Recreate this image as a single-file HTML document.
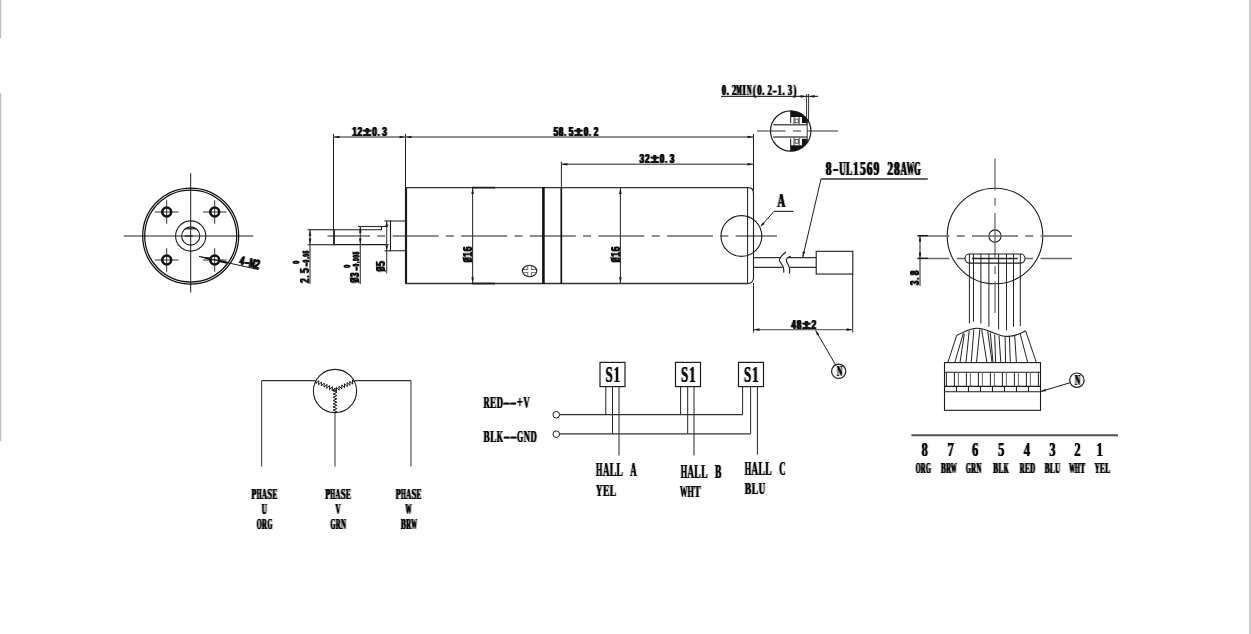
<!DOCTYPE html>
<html><head><meta charset="utf-8"><title>Motor drawing</title>
<style>html,body{margin:0;padding:0;background:#fff;overflow:hidden}svg{display:block}text{white-space:pre}</style>
</head><body>
<svg width="1251" height="634" viewBox="0 0 1251 634">
<rect width="1251" height="634" fill="#fff"/>
<defs>
<filter id="fb" x="-50%" y="-50%" width="200%" height="200%"><feConvolveMatrix order="3 1" kernelMatrix="0.33 1 0.33" divisor="1" preserveAlpha="false" edgeMode="none"/></filter>
<filter id="fs" x="-50%" y="-50%" width="200%" height="200%"><feConvolveMatrix order="3 1" kernelMatrix="0.42 1 0.42" divisor="1" preserveAlpha="false" edgeMode="none"/></filter>
<filter id="f0" x="-50%" y="-50%" width="200%" height="200%"><feConvolveMatrix order="3 1" kernelMatrix="0 1 0" divisor="1" preserveAlpha="false" edgeMode="none"/></filter>
<filter id="fsv" x="-50%" y="-50%" width="200%" height="200%"><feConvolveMatrix order="1 3" kernelMatrix="0.36 1 0.36" divisor="1" preserveAlpha="false" edgeMode="none"/></filter>
<filter id="fbv" x="-50%" y="-50%" width="200%" height="200%"><feConvolveMatrix order="1 3" kernelMatrix="0.33 1 0.33" divisor="1" preserveAlpha="false" edgeMode="none"/></filter>
<filter id="flv" x="-50%" y="-50%" width="200%" height="200%"><feConvolveMatrix order="1 3" kernelMatrix="0.22 1 0.22" divisor="1" preserveAlpha="false" edgeMode="none"/></filter>
<filter id="fl" x="-50%" y="-50%" width="200%" height="200%"><feConvolveMatrix order="3 1" kernelMatrix="0.22 1 0.22" divisor="1" preserveAlpha="false" edgeMode="none"/></filter>
</defs>
<rect x="0" y="0" width="1.25" height="38" fill="#bcbcbc"/>
<rect x="0" y="93.5" width="1.25" height="347.5" fill="#bcbcbc"/>
<rect x="1249" y="0" width="2" height="634" fill="#cacaca"/>
<line x1="123.7" y1="236" x2="253.3" y2="236" stroke="#6a6a6a" stroke-width="1.4" />
<line x1="190.7" y1="173.2" x2="190.7" y2="292.5" stroke="#1c1c1c" stroke-width="1" />
<circle cx="190.7" cy="236" r="48" stroke="#111" stroke-width="1.25" fill="none" />
<circle cx="190.7" cy="236" r="46" stroke="#111" stroke-width="1.25" fill="none" />
<circle cx="190.7" cy="236" r="15.1" stroke="#1c1c1c" stroke-width="1.1" fill="none" />
<circle cx="190.7" cy="236" r="9.1" stroke="#1c1c1c" stroke-width="1.1" fill="none" />
<line x1="185.1" y1="228.8" x2="196.29999999999998" y2="228.8" stroke="#1c1c1c" stroke-width="1.2" />
<line x1="184.7" y1="236" x2="192.7" y2="236" stroke="#1c1c1c" stroke-width="1.2" />
<line x1="154.89999999999998" y1="212" x2="178.5" y2="212" stroke="#444" stroke-width="1.1" />
<line x1="166.7" y1="200.2" x2="166.7" y2="223.8" stroke="#333" stroke-width="1" />
<circle cx="166.7" cy="212" r="4.45" stroke="#111" stroke-width="2.6" fill="none" />
<line x1="154.89999999999998" y1="260" x2="178.5" y2="260" stroke="#444" stroke-width="1.1" />
<line x1="166.7" y1="248.2" x2="166.7" y2="271.8" stroke="#333" stroke-width="1" />
<circle cx="166.7" cy="260" r="4.45" stroke="#111" stroke-width="2.6" fill="none" />
<line x1="202.89999999999998" y1="212" x2="226.5" y2="212" stroke="#444" stroke-width="1.1" />
<line x1="214.7" y1="200.2" x2="214.7" y2="223.8" stroke="#333" stroke-width="1" />
<circle cx="214.7" cy="212" r="4.45" stroke="#111" stroke-width="2.6" fill="none" />
<line x1="202.89999999999998" y1="260" x2="226.5" y2="260" stroke="#444" stroke-width="1.1" />
<line x1="214.7" y1="248.2" x2="214.7" y2="271.8" stroke="#333" stroke-width="1" />
<circle cx="214.7" cy="260" r="4.45" stroke="#111" stroke-width="2.6" fill="none" />
<line x1="199" y1="256.4" x2="258.7" y2="269.6" stroke="#1c1c1c" stroke-width="1" />
<polygon points="199.00,256.40 212.06,257.55 211.33,260.87" fill="#1a1a1a"/>
<g filter="url(#fs)" aria-label="4-M2"><text x="4.13 12.38 20.63 28.88" y="0" font-size="12.76" font-family="'Liberation Sans', sans-serif" font-weight="bold" fill="#111" stroke="#111" stroke-width="0.2" text-anchor="middle" transform="translate(238.6 264.5) rotate(12.5) scale(0.6303 1)">4<tspan textLength="6.98" lengthAdjust="spacingAndGlyphs">-</tspan><tspan textLength="9.08" lengthAdjust="spacingAndGlyphs">M</tspan>2</text></g>
<line x1="220.2" y1="261.1" x2="226.8" y2="262.6" stroke="#111" stroke-width="2.2" />
<line x1="327.5" y1="236" x2="777" y2="236" stroke="#6a6a6a" stroke-width="1.4" stroke-dasharray="46 7.3 8 7.3" stroke-dashoffset="3.5"/>
<path d="M334,229.7 H381.5 V226.5 H387.5" stroke="#1c1c1c" stroke-width="1.1" fill="none" />
<line x1="334" y1="229.2" x2="334" y2="245.2" stroke="#1c1c1c" stroke-width="1.8" />
<line x1="334" y1="244.7" x2="388.5" y2="244.7" stroke="#1c1c1c" stroke-width="1.2" />
<path d="M405.5,221 H390.5 V250.8 H405.5" stroke="#1c1c1c" stroke-width="1.1" fill="none" />
<line x1="406" y1="187" x2="406" y2="284" stroke="#1c1c1c" stroke-width="2.2" />
<line x1="405" y1="187.6" x2="748" y2="187.6" stroke="#333" stroke-width="1.3" />
<line x1="405" y1="283.5" x2="748" y2="283.5" stroke="#333" stroke-width="1.3" />
<line x1="543.4" y1="187" x2="543.4" y2="284" stroke="#111" stroke-width="2.6" />
<line x1="561.3" y1="187" x2="561.3" y2="284" stroke="#111" stroke-width="1.7" />
<path d="M748,187.6 Q753.5,187.6 753.5,193.5 V277.6 Q753.5,283.5 748,283.5" stroke="#1c1c1c" stroke-width="1.1" fill="none" />
<line x1="747.6" y1="187.6" x2="747.6" y2="283.5" stroke="#1c1c1c" stroke-width="1" />
<ellipse cx="529.6" cy="271" rx="7.2" ry="5.7" stroke="#1c1c1c" stroke-width="1.1" fill="none"/>
<line x1="523" y1="269.5" x2="536.2" y2="269.5" stroke="#666" stroke-width="1" />
<line x1="523" y1="272.6" x2="536.2" y2="272.6" stroke="#666" stroke-width="1" />
<line x1="527.9" y1="265.8" x2="527.9" y2="276.2" stroke="#666" stroke-width="1" />
<line x1="531.3" y1="265.8" x2="531.3" y2="276.2" stroke="#666" stroke-width="1" />
<rect x="523.3" y="270" width="12.6" height="2.1" stroke="none" stroke-width="0" fill="#fff" />
<rect x="528.4" y="266" width="2.4" height="10" stroke="none" stroke-width="0" fill="#fff" />
<line x1="333.5" y1="134" x2="333.5" y2="229.7" stroke="#1c1c1c" stroke-width="1" />
<line x1="405.5" y1="134" x2="405.5" y2="187" stroke="#1c1c1c" stroke-width="1" />
<line x1="753.5" y1="134" x2="753.5" y2="190" stroke="#1c1c1c" stroke-width="1" />
<line x1="333.5" y1="137" x2="753.5" y2="137" stroke="#6a6a6a" stroke-width="1.4" />
<polygon points="333.50,137.00 339.50,135.70 339.50,138.30" fill="#1a1a1a"/>
<polygon points="405.50,137.00 399.50,138.30 399.50,135.70" fill="#1a1a1a"/>
<polygon points="405.50,137.00 411.50,135.70 411.50,138.30" fill="#1a1a1a"/>
<polygon points="753.50,137.00 747.50,138.30 747.50,135.70" fill="#1a1a1a"/>
<g transform="translate(351.8 135.8)" filter="url(#fs)" aria-label="12±0.3"><text x="4.30 12.91 24.70 36.49 42.99 52.43" y="0" font-size="13.31" font-family="'Liberation Sans', sans-serif" font-weight="bold" fill="#111" stroke="#111" stroke-width="0.2" text-anchor="middle" transform="scale(0.6275 1)">12<tspan textLength="12.75" lengthAdjust="spacingAndGlyphs">±</tspan>0<tspan textLength="3.03" lengthAdjust="spacingAndGlyphs">.</tspan>3</text></g>
<g transform="translate(553.1 135.9)" filter="url(#fs)" aria-label="58.5±0.2"><text x="4.30 12.91 19.41 28.84 40.64 52.43 58.93 68.36" y="0" font-size="13.31" font-family="'Liberation Sans', sans-serif" font-weight="bold" fill="#111" stroke="#111" stroke-width="0.2" text-anchor="middle" transform="scale(0.6275 1)">58<tspan textLength="3.03" lengthAdjust="spacingAndGlyphs">.</tspan>5<tspan textLength="12.75" lengthAdjust="spacingAndGlyphs">±</tspan>0<tspan textLength="3.03" lengthAdjust="spacingAndGlyphs">.</tspan>2</text></g>
<line x1="561.4" y1="161.6" x2="561.4" y2="187" stroke="#1c1c1c" stroke-width="1" />
<line x1="561.4" y1="164.2" x2="753.5" y2="164.2" stroke="#6a6a6a" stroke-width="1.4" />
<polygon points="561.40,164.20 567.40,162.90 567.40,165.50" fill="#1a1a1a"/>
<polygon points="753.50,164.20 747.50,165.50 747.50,162.90" fill="#1a1a1a"/>
<g transform="translate(639.2 163)" filter="url(#fs)" aria-label="32±0.3"><text x="4.30 12.91 24.70 36.49 42.99 52.43" y="0" font-size="13.31" font-family="'Liberation Sans', sans-serif" font-weight="bold" fill="#111" stroke="#111" stroke-width="0.2" text-anchor="middle" transform="scale(0.6275 1)">32<tspan textLength="12.75" lengthAdjust="spacingAndGlyphs">±</tspan>0<tspan textLength="3.03" lengthAdjust="spacingAndGlyphs">.</tspan>3</text></g>
<line x1="472.6" y1="187.6" x2="472.6" y2="283.5" stroke="#333" stroke-width="1.1" />
<polygon points="472.60,187.90 473.90,193.90 471.30,193.90" fill="#1a1a1a"/>
<polygon points="472.60,283.20 471.30,277.20 473.90,277.20" fill="#1a1a1a"/>
<line x1="620.4" y1="187.6" x2="620.4" y2="283.5" stroke="#333" stroke-width="1.1" />
<polygon points="620.40,187.90 621.70,193.90 619.10,193.90" fill="#1a1a1a"/>
<polygon points="620.40,283.20 619.10,277.20 621.70,277.20" fill="#1a1a1a"/>
<line x1="472" y1="187.6" x2="495" y2="187.6" stroke="#1c1c1c" stroke-width="1.7" />
<line x1="472" y1="283.5" x2="495" y2="283.5" stroke="#1c1c1c" stroke-width="1.7" />
<g filter="url(#fsv)" aria-label="Ø16"><g transform="translate(471.8 262.4) rotate(-90)"><line x1="0.70" y1="0.2" x2="4.70" y2="-9.40" stroke="#111" stroke-width="0.85"/></g><text x="4.08 12.24 20.40" y="0" font-size="12.62" font-family="'Liberation Sans', sans-serif" font-weight="bold" fill="#111" stroke="#111" stroke-width="0.2" text-anchor="middle" transform="translate(471.8 262.4) rotate(-90) scale(0.6616 1)"><tspan textLength="7.59" lengthAdjust="spacingAndGlyphs">Ø</tspan>16</text></g>
<g filter="url(#fsv)" aria-label="Ø16"><g transform="translate(619.6 262.4) rotate(-90)"><line x1="0.70" y1="0.2" x2="4.70" y2="-9.40" stroke="#111" stroke-width="0.85"/></g><text x="4.08 12.24 20.40" y="0" font-size="12.62" font-family="'Liberation Sans', sans-serif" font-weight="bold" fill="#111" stroke="#111" stroke-width="0.2" text-anchor="middle" transform="translate(619.6 262.4) rotate(-90) scale(0.6616 1)"><tspan textLength="7.59" lengthAdjust="spacingAndGlyphs">Ø</tspan>16</text></g>
<line x1="307.6" y1="229.7" x2="334" y2="229.7" stroke="#333" stroke-width="1.2" />
<line x1="307.6" y1="244.7" x2="334" y2="244.7" stroke="#333" stroke-width="1.2" />
<line x1="310" y1="229.7" x2="310" y2="284" stroke="#444" stroke-width="1.2" />
<polygon points="310.00,229.90 311.30,235.90 308.70,235.90" fill="#1a1a1a"/>
<polygon points="310.00,244.50 308.70,238.50 311.30,238.50" fill="#1a1a1a"/>
<g filter="url(#fsv)" aria-label="2.5"><text x="4.30 10.80 20.24" y="0" font-size="13.31" font-family="'Liberation Sans', sans-serif" font-weight="bold" fill="#111" stroke="#111" stroke-width="0.2" text-anchor="middle" transform="translate(308.8 283.3) rotate(-90) scale(0.6275 1)">2<tspan textLength="3.03" lengthAdjust="spacingAndGlyphs">.</tspan>5</text></g>
<g filter="url(#f0)" aria-label="-0.05"><text x="3.32 9.52 14.42 19.31 25.07" y="0" font-size="8.92" font-family="'Liberation Sans', sans-serif" font-weight="bold" fill="#111" stroke="#111" stroke-width="1.1" text-anchor="middle" transform="translate(308.8 266.4) rotate(-90) scale(0.5723 1)"><tspan textLength="5.94" lengthAdjust="spacingAndGlyphs">-</tspan>0.05</text></g>
<g filter="url(#f0)" aria-label="0"><text x="2.66" y="0" font-size="8.23" font-family="'Liberation Sans', sans-serif" font-weight="bold" fill="#111" stroke="#111" stroke-width="1.1" text-anchor="middle" transform="translate(299.2 264) rotate(-90) scale(0.6763 1)">0</text></g>
<line x1="358" y1="226.5" x2="382" y2="226.5" stroke="#333" stroke-width="1.2" />
<line x1="360.3" y1="226.5" x2="360.3" y2="284" stroke="#444" stroke-width="1.2" />
<polygon points="360.30,226.70 361.60,232.70 359.00,232.70" fill="#1a1a1a"/>
<polygon points="360.30,244.50 359.00,238.50 361.60,238.50" fill="#1a1a1a"/>
<g filter="url(#fsv)" aria-label="Ø3"><g transform="translate(358.9 282.9) rotate(-90)"><line x1="0.70" y1="0.2" x2="4.70" y2="-9.20" stroke="#111" stroke-width="0.85"/></g><text x="3.99 11.98" y="0" font-size="12.35" font-family="'Liberation Sans', sans-serif" font-weight="bold" fill="#111" stroke="#111" stroke-width="0.2" text-anchor="middle" transform="translate(358.9 282.9) rotate(-90) scale(0.6763 1)"><tspan textLength="7.43" lengthAdjust="spacingAndGlyphs">Ø</tspan>3</text></g>
<g filter="url(#f0)" aria-label="-0.005"><text x="3.32 9.52 14.42 19.31 25.07 30.84" y="0" font-size="8.92" font-family="'Liberation Sans', sans-serif" font-weight="bold" fill="#111" stroke="#111" stroke-width="1.1" text-anchor="middle" transform="translate(358.9 270.6) rotate(-90) scale(0.5723 1)"><tspan textLength="5.94" lengthAdjust="spacingAndGlyphs">-</tspan>0.005</text></g>
<g filter="url(#f0)" aria-label="0"><text x="2.66" y="0" font-size="8.23" font-family="'Liberation Sans', sans-serif" font-weight="bold" fill="#111" stroke="#111" stroke-width="1.1" text-anchor="middle" transform="translate(350 267.9) rotate(-90) scale(0.6763 1)">0</text></g>
<line x1="384.5" y1="221" x2="391" y2="221" stroke="#333" stroke-width="1.2" />
<line x1="384.5" y1="250.8" x2="391" y2="250.8" stroke="#333" stroke-width="1.2" />
<line x1="386.7" y1="221" x2="386.7" y2="273.5" stroke="#444" stroke-width="1.1" />
<polygon points="386.70,221.20 388.00,226.20 385.40,226.20" fill="#1a1a1a"/>
<polygon points="386.70,250.60 385.40,245.60 388.00,245.60" fill="#1a1a1a"/>
<g filter="url(#fsv)" aria-label="Ø5"><g transform="translate(385.3 271.8) rotate(-90)"><line x1="0.70" y1="0.2" x2="4.70" y2="-9.10" stroke="#111" stroke-width="0.85"/></g><text x="3.95 11.84" y="0" font-size="12.21" font-family="'Liberation Sans', sans-serif" font-weight="bold" fill="#111" stroke="#111" stroke-width="0.2" text-anchor="middle" transform="translate(385.3 271.8) rotate(-90) scale(0.6839 1)"><tspan textLength="7.34" lengthAdjust="spacingAndGlyphs">Ø</tspan>5</text></g>
<circle cx="741.4" cy="236" r="20.4" stroke="#1c1c1c" stroke-width="1.1" fill="none" />
<line x1="761" y1="226" x2="774" y2="211.4" stroke="#1c1c1c" stroke-width="1" />
<line x1="774" y1="211.4" x2="793.6" y2="211.4" stroke="#333" stroke-width="1.2" />
<polygon points="760.40,226.80 762.75,222.20 764.70,223.93" fill="#1a1a1a"/>
<g transform="translate(777.2 207)" filter="url(#fb)" aria-label="A"><text x="5.33" y="0" font-size="18.32" font-family="'Liberation Serif', serif" font-weight="bold" fill="#111" stroke="#111" stroke-width="0.2" text-anchor="middle" transform="scale(0.7698 1)"><tspan textLength="9.91" lengthAdjust="spacingAndGlyphs">A</tspan></text></g>
<path d="M753.5,257.55 H780.5 M787.6,257.55 H816.2" stroke="#333" stroke-width="1.2" fill="none" />
<path d="M753.5,267.3 H782.6 M789.8,267.3 H816.2" stroke="#333" stroke-width="1.2" fill="none" />
<path d="M786,252 C781,256 778.5,258.5 779.6,261 C781,264 785,266 783.6,272.6" stroke="#1c1c1c" stroke-width="1.1" fill="none" />
<path d="M790.8,256.3 C787.5,257.5 785.8,259 786.4,261 C787.5,264.5 791,267 789.3,273.6" stroke="#1c1c1c" stroke-width="1.1" fill="none" />
<rect x="816.2" y="251.3" width="36.6" height="22.75" stroke="#1c1c1c" stroke-width="1.1" fill="none" />
<line x1="753.5" y1="283" x2="753.5" y2="332.4" stroke="#1c1c1c" stroke-width="1" />
<line x1="852.7" y1="274" x2="852.7" y2="332.4" stroke="#1c1c1c" stroke-width="1" />
<line x1="753.5" y1="329.6" x2="852.7" y2="329.6" stroke="#6a6a6a" stroke-width="1.4" />
<polygon points="753.50,329.60 759.50,328.30 759.50,330.90" fill="#1a1a1a"/>
<polygon points="852.70,329.60 846.70,330.90 846.70,328.30" fill="#1a1a1a"/>
<g transform="translate(790.9 329)" filter="url(#fs)" aria-label="48±2"><text x="4.21 12.64 24.19 35.74" y="0" font-size="13.03" font-family="'Liberation Sans', sans-serif" font-weight="bold" fill="#111" stroke="#111" stroke-width="0.2" text-anchor="middle" transform="scale(0.6407 1)">48<tspan textLength="12.49" lengthAdjust="spacingAndGlyphs">±</tspan>2</text></g>
<line x1="815.6" y1="330.4" x2="836" y2="365.6" stroke="#1c1c1c" stroke-width="1" />
<polygon points="815.60,330.40 819.23,334.07 816.98,335.38" fill="#1a1a1a"/>
<circle cx="838.7" cy="371.3" r="7.1" stroke="#1c1c1c" stroke-width="1.2" fill="none" />
<g transform="translate(836.55 375.9)" filter="url(#fb)" aria-label="N"><text x="4.17" y="0" font-size="14.35" font-family="'Liberation Serif', serif" font-weight="bold" fill="#111" stroke="#111" stroke-width="0.2" text-anchor="middle" transform="scale(0.7191 1)"><tspan textLength="7.37" lengthAdjust="spacingAndGlyphs">N</tspan></text></g>
<line x1="821" y1="179" x2="927.8" y2="179" stroke="#333" stroke-width="1.3" />
<line x1="821" y1="179" x2="802.8" y2="257" stroke="#1c1c1c" stroke-width="1" />
<polygon points="802.60,257.50 802.70,251.36 805.23,251.95" fill="#1a1a1a"/>
<g transform="translate(825.4 174.5)" filter="url(#fb)" aria-label="8-UL1569 28AWG"><text x="5.46 16.38 27.29 38.21 49.13 60.05 70.97 81.88 92.80 103.72 114.64 125.55 136.47 147.39" y="0" font-size="18.78" font-family="'Liberation Serif', serif" font-weight="bold" fill="#111" stroke="#111" stroke-width="0.2" text-anchor="middle" transform="scale(0.6238 1)">8<tspan textLength="8.66" lengthAdjust="spacingAndGlyphs">-</tspan><tspan textLength="10.15" lengthAdjust="spacingAndGlyphs">U</tspan><tspan textLength="10.15" lengthAdjust="spacingAndGlyphs">L</tspan>1569 28<tspan textLength="10.15" lengthAdjust="spacingAndGlyphs">A</tspan><tspan textLength="12.01" lengthAdjust="spacingAndGlyphs">W</tspan><tspan textLength="10.15" lengthAdjust="spacingAndGlyphs">G</tspan></text></g>
<clipPath id="dc"><circle cx="790.7" cy="131" r="20.2"/></clipPath>
<g clip-path="url(#dc)">
<rect x="790.2" y="105" width="30" height="52" fill="#111"/>
<rect x="770" y="124.8" width="37.2" height="12.1" fill="#fff"/>
<rect x="790.2" y="123" width="25" height="15.8" fill="#fff"/>
<rect x="791.2" y="117" width="10.8" height="7.9" fill="#fff"/>
<line x1="794" y1="117" x2="794" y2="124.9" stroke="#333" stroke-width="0.9" />
<line x1="799.2" y1="117" x2="799.2" y2="124.9" stroke="#333" stroke-width="0.9" />
<rect x="795" y="119" width="3.3" height="3.8" stroke="#333" stroke-width="0.8" fill="none" />
<rect x="791.2" y="137.4" width="10.8" height="7.9" fill="#fff"/>
<line x1="794" y1="137.4" x2="794" y2="145.3" stroke="#333" stroke-width="0.9" />
<line x1="799.2" y1="137.4" x2="799.2" y2="145.3" stroke="#333" stroke-width="0.9" />
<rect x="795" y="139.4" width="3.3" height="3.8" stroke="#333" stroke-width="0.8" fill="none" />
<rect x="807.6" y="110" width="6" height="42" fill="#fff"/>
<polygon points="802,112 807.6,112 807.6,122.5 802,122.5" fill="#111"/>
<polygon points="802,139.5 807.6,139.5 807.6,150 802,150" fill="#111"/>
<line x1="773.2" y1="124.8" x2="807.2" y2="124.8" stroke="#555" stroke-width="1.5" />
<line x1="773.2" y1="136.9" x2="807.2" y2="136.9" stroke="#555" stroke-width="1.5" />
<line x1="807.2" y1="110" x2="807.2" y2="152" stroke="#444" stroke-width="1.1" />
</g>
<circle cx="790.7" cy="131" r="20.2" stroke="#1c1c1c" stroke-width="1.2" fill="none" />
<line x1="757" y1="131" x2="838" y2="131" stroke="#333" stroke-width="1.05" stroke-dasharray="28.5 7.5 8 6 40"/>
<line x1="806.6" y1="94" x2="806.6" y2="124" stroke="#1c1c1c" stroke-width="0.9" />
<line x1="808.6" y1="94" x2="808.6" y2="121" stroke="#1c1c1c" stroke-width="0.9" />
<line x1="721" y1="96.4" x2="818" y2="96.4" stroke="#333" stroke-width="1.3" />
<polygon points="806.20,96.40 800.70,97.70 800.70,95.10" fill="#1a1a1a"/>
<polygon points="809.00,96.40 814.50,95.10 814.50,97.70" fill="#1a1a1a"/>
<g transform="translate(721.4 95)" filter="url(#fb)" aria-label="0.2MIN(0.2-1.3)"><text x="4.44 11.36 22.19 31.07 39.94 48.82 57.70 66.57 73.50 84.32 93.20 102.08 109.00 119.83 128.71" y="0" font-size="15.27" font-family="'Liberation Serif', serif" font-weight="bold" fill="#111" stroke="#111" stroke-width="0.2" text-anchor="middle" transform="scale(0.5712 1)">0.2<tspan textLength="9.76" lengthAdjust="spacingAndGlyphs">M</tspan>I<tspan textLength="8.25" lengthAdjust="spacingAndGlyphs">N</tspan>(0.2<tspan textLength="7.35" lengthAdjust="spacingAndGlyphs">-</tspan>1.3)</text></g>
<circle cx="995" cy="236" r="47.8" stroke="#1c1c1c" stroke-width="1.1" fill="none" />
<circle cx="995" cy="236" r="6.1" stroke="#1c1c1c" stroke-width="1.1" fill="none" />
<line x1="917.6" y1="236" x2="1072" y2="236" stroke="#6a6a6a" stroke-width="1.4" stroke-dasharray="46 7.3 8 7.3" stroke-dashoffset="14.2"/>
<line x1="917.6" y1="258.5" x2="965" y2="258.5" stroke="#6a6a6a" stroke-width="1.3" stroke-dasharray="46 7.3 8 7.3" stroke-dashoffset="14.2"/>
<line x1="1025" y1="258.5" x2="1072" y2="258.5" stroke="#6a6a6a" stroke-width="1.3" stroke-dasharray="8 7.3 46 7.3" stroke-dashoffset="-0.2"/>
<line x1="972" y1="258.5" x2="1017.7" y2="258.5" stroke="#222" stroke-width="1.5" />
<line x1="995" y1="158.6" x2="995" y2="313" stroke="#555" stroke-width="1.1" stroke-dasharray="46 7.3 8 7.3" stroke-dashoffset="14.2"/>
<rect x="965" y="254" width="60" height="9.1" rx="4.55" stroke="#1c1c1c" stroke-width="1.1" fill="none"/>
<line x1="969.4" y1="254" x2="969.4" y2="323.4" stroke="#222" stroke-width="1" />
<line x1="973.5" y1="254" x2="973.5" y2="321.6" stroke="#222" stroke-width="1" />
<line x1="980.9" y1="254" x2="980.9" y2="323.4" stroke="#222" stroke-width="1" />
<line x1="988.9" y1="254" x2="988.9" y2="326.8" stroke="#222" stroke-width="1" />
<line x1="998.6" y1="254" x2="998.6" y2="329.4" stroke="#222" stroke-width="1" />
<line x1="1006.5" y1="254" x2="1006.5" y2="330.3" stroke="#222" stroke-width="1" />
<line x1="1013.5" y1="254" x2="1013.5" y2="326.8" stroke="#222" stroke-width="1" />
<line x1="1020.3" y1="254" x2="1020.3" y2="326" stroke="#222" stroke-width="1" />
<line x1="917.6" y1="235.6" x2="928" y2="235.6" stroke="#1c1c1c" stroke-width="1.3" />
<line x1="917.6" y1="258.3" x2="928" y2="258.3" stroke="#1c1c1c" stroke-width="1.3" />
<line x1="920" y1="235.6" x2="920" y2="286" stroke="#333" stroke-width="1.1" />
<polygon points="920.00,235.90 921.30,241.40 918.70,241.40" fill="#1a1a1a"/>
<polygon points="920.00,258.10 918.70,252.60 921.30,252.60" fill="#1a1a1a"/>
<g filter="url(#fsv)" aria-label="3.8"><text x="4.17 10.47 19.61" y="0" font-size="12.89" font-family="'Liberation Sans', sans-serif" font-weight="bold" fill="#111" stroke="#111" stroke-width="0.2" text-anchor="middle" transform="translate(918.7 285.6) rotate(-90) scale(0.6476 1)">3<tspan textLength="2.93" lengthAdjust="spacingAndGlyphs">.</tspan>8</text></g>
<path d="M956.8,335.2 C964.8,332.2 968.3,328.2 977.3,328.2 C988.3,328.2 995.7,336.4 1007.7,336.4 C1015.7,336.4 1019.5999999999999,333.8 1025.6,330.8" stroke="#1c1c1c" stroke-width="1.1" fill="none" />
<line x1="956.8" y1="335.2" x2="947.8" y2="362.5" stroke="#222" stroke-width="1" />
<line x1="963.4" y1="332.9" x2="954.8" y2="362.5" stroke="#222" stroke-width="1" />
<line x1="964.3" y1="333.8" x2="960.0" y2="362.5" stroke="#222" stroke-width="1" />
<line x1="969.2" y1="330.8" x2="966.0" y2="362.5" stroke="#222" stroke-width="1" />
<line x1="973.9" y1="329.4" x2="971.2" y2="362.5" stroke="#222" stroke-width="1" />
<line x1="979.9" y1="329.1" x2="976.5" y2="362.5" stroke="#222" stroke-width="1" />
<line x1="981.7" y1="329.4" x2="986.9" y2="362.5" stroke="#222" stroke-width="1" />
<line x1="987.7" y1="331.2" x2="992.1" y2="362.5" stroke="#222" stroke-width="1" />
<line x1="990.3" y1="332.6" x2="993.0" y2="362.5" stroke="#222" stroke-width="1" />
<line x1="994.7" y1="334.7" x2="995.6" y2="362.5" stroke="#222" stroke-width="1" />
<line x1="999.0" y1="336.0" x2="1000.8" y2="362.5" stroke="#222" stroke-width="1" />
<line x1="1005.1" y1="336.4" x2="1005.6" y2="362.5" stroke="#222" stroke-width="1" />
<line x1="1009.4" y1="336.0" x2="1010.3" y2="362.5" stroke="#222" stroke-width="1" />
<line x1="1014.7" y1="335.0" x2="1016.4" y2="362.5" stroke="#222" stroke-width="1" />
<line x1="1020.2" y1="333.8" x2="1027.7" y2="362.5" stroke="#222" stroke-width="1" />
<line x1="1025.6" y1="330.8" x2="1036.4" y2="362.5" stroke="#222" stroke-width="1" />
<rect x="944.5" y="362.6" width="96" height="47.7" stroke="#1c1c1c" stroke-width="1.1" fill="none" />
<line x1="944.5" y1="372.3" x2="1040.5" y2="372.3" stroke="#1c1c1c" stroke-width="1.1" />
<line x1="944.5" y1="386.4" x2="1040.5" y2="386.4" stroke="#1c1c1c" stroke-width="1.1" />
<line x1="944.5" y1="391.7" x2="1040.5" y2="391.7" stroke="#1c1c1c" stroke-width="1.1" />
<line x1="946.4" y1="372.3" x2="946.4" y2="386.4" stroke="#222" stroke-width="1" />
<line x1="954.4" y1="372.3" x2="954.4" y2="386.4" stroke="#222" stroke-width="1" />
<line x1="958.4" y1="372.3" x2="958.4" y2="386.4" stroke="#6a6a6a" stroke-width="1" />
<line x1="966.4" y1="372.3" x2="966.4" y2="386.4" stroke="#222" stroke-width="1" />
<line x1="956.5" y1="386.4" x2="956.5" y2="391.7" stroke="#1c1c1c" stroke-width="1.1" />
<line x1="970.4" y1="372.3" x2="970.4" y2="386.4" stroke="#6a6a6a" stroke-width="1" />
<line x1="978.4" y1="372.3" x2="978.4" y2="386.4" stroke="#222" stroke-width="1" />
<line x1="968.5" y1="386.4" x2="968.5" y2="391.7" stroke="#1c1c1c" stroke-width="1.1" />
<line x1="982.4" y1="372.3" x2="982.4" y2="386.4" stroke="#6a6a6a" stroke-width="1" />
<line x1="990.4" y1="372.3" x2="990.4" y2="386.4" stroke="#222" stroke-width="1" />
<line x1="980.5" y1="386.4" x2="980.5" y2="391.7" stroke="#1c1c1c" stroke-width="1.1" />
<line x1="994.4" y1="372.3" x2="994.4" y2="386.4" stroke="#6a6a6a" stroke-width="1" />
<line x1="1002.4" y1="372.3" x2="1002.4" y2="386.4" stroke="#222" stroke-width="1" />
<line x1="992.5" y1="386.4" x2="992.5" y2="391.7" stroke="#1c1c1c" stroke-width="1.1" />
<line x1="1006.4" y1="372.3" x2="1006.4" y2="386.4" stroke="#6a6a6a" stroke-width="1" />
<line x1="1014.4" y1="372.3" x2="1014.4" y2="386.4" stroke="#222" stroke-width="1" />
<line x1="1004.5" y1="386.4" x2="1004.5" y2="391.7" stroke="#1c1c1c" stroke-width="1.1" />
<line x1="1018.4" y1="372.3" x2="1018.4" y2="386.4" stroke="#6a6a6a" stroke-width="1" />
<line x1="1026.4" y1="372.3" x2="1026.4" y2="386.4" stroke="#222" stroke-width="1" />
<line x1="1016.5" y1="386.4" x2="1016.5" y2="391.7" stroke="#1c1c1c" stroke-width="1.1" />
<line x1="1030.4" y1="372.3" x2="1030.4" y2="386.4" stroke="#6a6a6a" stroke-width="1" />
<line x1="1038.4" y1="372.3" x2="1038.4" y2="386.4" stroke="#222" stroke-width="1" />
<line x1="1028.5" y1="386.4" x2="1028.5" y2="391.7" stroke="#1c1c1c" stroke-width="1.1" />
<line x1="1040.5" y1="391.6" x2="1070.2" y2="382.7" stroke="#1c1c1c" stroke-width="1" />
<polygon points="1040.50,391.60 1045.40,388.78 1046.14,391.27" fill="#1a1a1a"/>
<circle cx="1076.9" cy="380.2" r="7.2" stroke="#1c1c1c" stroke-width="1.2" fill="none" />
<g transform="translate(1074.6 384.7)" filter="url(#fb)" aria-label="N"><text x="4.22" y="0" font-size="14.50" font-family="'Liberation Serif', serif" font-weight="bold" fill="#111" stroke="#111" stroke-width="0.2" text-anchor="middle" transform="scale(0.7115 1)"><tspan textLength="7.31" lengthAdjust="spacingAndGlyphs">N</tspan></text></g>
<line x1="911.4" y1="435.3" x2="1118" y2="435.3" stroke="#505050" stroke-width="1.9" />
<g transform="translate(921.0999999999999 455.5)" filter="url(#fl)" aria-label="8"><text x="5.46" y="0" font-size="18.78" font-family="'Liberation Serif', serif" font-weight="bold" fill="#111" stroke="#111" stroke-width="0.2" text-anchor="middle" transform="scale(0.6778 1)">8</text></g>
<g transform="translate(915.4499999999999 472.5)" filter="url(#fb)" aria-label="ORG"><text x="4.22 12.65 21.08" y="0" font-size="14.50" font-family="'Liberation Serif', serif" font-weight="bold" fill="#111" stroke="#111" stroke-width="0.2" text-anchor="middle" transform="scale(0.6202 1)"><tspan textLength="7.84" lengthAdjust="spacingAndGlyphs">O</tspan><tspan textLength="7.84" lengthAdjust="spacingAndGlyphs">R</tspan><tspan textLength="7.84" lengthAdjust="spacingAndGlyphs">G</tspan></text></g>
<g transform="translate(947.0 455.5)" filter="url(#fl)" aria-label="7"><text x="5.46" y="0" font-size="18.78" font-family="'Liberation Serif', serif" font-weight="bold" fill="#111" stroke="#111" stroke-width="0.2" text-anchor="middle" transform="scale(0.6778 1)">7</text></g>
<g transform="translate(940.85 472.5)" filter="url(#fb)" aria-label="BRW"><text x="4.22 12.65 21.08" y="0" font-size="14.50" font-family="'Liberation Serif', serif" font-weight="bold" fill="#111" stroke="#111" stroke-width="0.2" text-anchor="middle" transform="scale(0.6202 1)"><tspan textLength="7.84" lengthAdjust="spacingAndGlyphs">B</tspan><tspan textLength="7.84" lengthAdjust="spacingAndGlyphs">R</tspan><tspan textLength="9.28" lengthAdjust="spacingAndGlyphs">W</tspan></text></g>
<g transform="translate(971.4 455.5)" filter="url(#fl)" aria-label="6"><text x="5.46" y="0" font-size="18.78" font-family="'Liberation Serif', serif" font-weight="bold" fill="#111" stroke="#111" stroke-width="0.2" text-anchor="middle" transform="scale(0.6778 1)">6</text></g>
<g transform="translate(965.75 472.5)" filter="url(#fb)" aria-label="GRN"><text x="4.22 12.65 21.08" y="0" font-size="14.50" font-family="'Liberation Serif', serif" font-weight="bold" fill="#111" stroke="#111" stroke-width="0.2" text-anchor="middle" transform="scale(0.6202 1)"><tspan textLength="7.84" lengthAdjust="spacingAndGlyphs">G</tspan><tspan textLength="7.84" lengthAdjust="spacingAndGlyphs">R</tspan><tspan textLength="7.84" lengthAdjust="spacingAndGlyphs">N</tspan></text></g>
<g transform="translate(997.5 455.5)" filter="url(#fl)" aria-label="5"><text x="5.46" y="0" font-size="18.78" font-family="'Liberation Serif', serif" font-weight="bold" fill="#111" stroke="#111" stroke-width="0.2" text-anchor="middle" transform="scale(0.6778 1)">5</text></g>
<g transform="translate(993.15 472.5)" filter="url(#fb)" aria-label="BLK"><text x="4.22 12.65 21.08" y="0" font-size="14.50" font-family="'Liberation Serif', serif" font-weight="bold" fill="#111" stroke="#111" stroke-width="0.2" text-anchor="middle" transform="scale(0.6202 1)"><tspan textLength="7.84" lengthAdjust="spacingAndGlyphs">B</tspan><tspan textLength="7.84" lengthAdjust="spacingAndGlyphs">L</tspan><tspan textLength="7.84" lengthAdjust="spacingAndGlyphs">K</tspan></text></g>
<g transform="translate(1023.3 455.5)" filter="url(#fl)" aria-label="4"><text x="5.46" y="0" font-size="18.78" font-family="'Liberation Serif', serif" font-weight="bold" fill="#111" stroke="#111" stroke-width="0.2" text-anchor="middle" transform="scale(0.6778 1)">4</text></g>
<g transform="translate(1019.5500000000001 472.5)" filter="url(#fb)" aria-label="RED"><text x="4.22 12.65 21.08" y="0" font-size="14.50" font-family="'Liberation Serif', serif" font-weight="bold" fill="#111" stroke="#111" stroke-width="0.2" text-anchor="middle" transform="scale(0.6202 1)"><tspan textLength="7.84" lengthAdjust="spacingAndGlyphs">R</tspan><tspan textLength="7.84" lengthAdjust="spacingAndGlyphs">E</tspan><tspan textLength="7.84" lengthAdjust="spacingAndGlyphs">D</tspan></text></g>
<g transform="translate(1048.7 455.5)" filter="url(#fl)" aria-label="3"><text x="5.46" y="0" font-size="18.78" font-family="'Liberation Serif', serif" font-weight="bold" fill="#111" stroke="#111" stroke-width="0.2" text-anchor="middle" transform="scale(0.6778 1)">3</text></g>
<g transform="translate(1044.5500000000002 472.5)" filter="url(#fb)" aria-label="BLU"><text x="4.22 12.65 21.08" y="0" font-size="14.50" font-family="'Liberation Serif', serif" font-weight="bold" fill="#111" stroke="#111" stroke-width="0.2" text-anchor="middle" transform="scale(0.6202 1)"><tspan textLength="7.84" lengthAdjust="spacingAndGlyphs">B</tspan><tspan textLength="7.84" lengthAdjust="spacingAndGlyphs">L</tspan><tspan textLength="7.84" lengthAdjust="spacingAndGlyphs">U</tspan></text></g>
<g transform="translate(1073.7 455.5)" filter="url(#fl)" aria-label="2"><text x="5.46" y="0" font-size="18.78" font-family="'Liberation Serif', serif" font-weight="bold" fill="#111" stroke="#111" stroke-width="0.2" text-anchor="middle" transform="scale(0.6778 1)">2</text></g>
<g transform="translate(1069.5500000000002 472.5)" filter="url(#fb)" aria-label="WHT"><text x="4.22 12.65 21.08" y="0" font-size="14.50" font-family="'Liberation Serif', serif" font-weight="bold" fill="#111" stroke="#111" stroke-width="0.2" text-anchor="middle" transform="scale(0.6202 1)"><tspan textLength="9.28" lengthAdjust="spacingAndGlyphs">W</tspan><tspan textLength="7.84" lengthAdjust="spacingAndGlyphs">H</tspan><tspan textLength="7.84" lengthAdjust="spacingAndGlyphs">T</tspan></text></g>
<g transform="translate(1095.8999999999999 455.5)" filter="url(#fl)" aria-label="1"><text x="5.46" y="0" font-size="18.78" font-family="'Liberation Serif', serif" font-weight="bold" fill="#111" stroke="#111" stroke-width="0.2" text-anchor="middle" transform="scale(0.6778 1)">1</text></g>
<g transform="translate(1094.5500000000002 472.5)" filter="url(#fb)" aria-label="YEL"><text x="4.22 12.65 21.08" y="0" font-size="14.50" font-family="'Liberation Serif', serif" font-weight="bold" fill="#111" stroke="#111" stroke-width="0.2" text-anchor="middle" transform="scale(0.6202 1)"><tspan textLength="7.84" lengthAdjust="spacingAndGlyphs">Y</tspan><tspan textLength="7.84" lengthAdjust="spacingAndGlyphs">E</tspan><tspan textLength="7.84" lengthAdjust="spacingAndGlyphs">L</tspan></text></g>
<line x1="261.6" y1="380.6" x2="315.6" y2="380.6" stroke="#333" stroke-width="1.2" />
<line x1="354.4" y1="380.6" x2="411" y2="380.6" stroke="#333" stroke-width="1.2" />
<line x1="261.6" y1="380.6" x2="261.6" y2="466.6" stroke="#444" stroke-width="1.1" />
<line x1="411" y1="380.6" x2="411" y2="466.6" stroke="#444" stroke-width="1.1" />
<line x1="335" y1="412.6" x2="335" y2="466.6" stroke="#444" stroke-width="1.1" />
<circle cx="335" cy="391" r="21.6" stroke="#1c1c1c" stroke-width="1.1" fill="none" />
<path d="M316.0,381.5 L315.9,383.5 L318.8,380.7 L318.6,384.8 L321.5,381.9 L321.3,386.0 L324.2,383.1 L324.0,387.2 L327.0,384.3 L326.8,388.4 L329.7,385.5 L329.5,389.6 L332.4,386.7 L332.2,390.8 L335.1,388.0 L335.0,390.0" stroke="#111" stroke-width="1.0" fill="none" />
<path d="M354.0,381.5 L352.5,380.1 L352.7,384.1 L349.8,381.3 L350.0,385.4 L347.1,382.5 L347.3,386.6 L344.4,383.7 L344.6,387.8 L341.7,384.9 L341.9,389.0 L339.0,386.1 L339.2,390.2 L336.3,387.4 L336.5,391.4 L335.0,390.0" stroke="#111" stroke-width="1.0" fill="none" />
<path d="M335.0,390.0 L333.1,390.8 L336.9,392.4 L333.1,394.0 L336.9,395.6 L333.1,397.3 L336.9,398.9 L333.1,400.5 L336.9,402.1 L333.1,403.7 L336.9,405.3 L333.1,407.0 L336.9,408.6 L333.1,410.2 L336.9,411.8 L335.0,412.6" stroke="#111" stroke-width="1.0" fill="none" />
<g transform="translate(251.4 499)" filter="url(#fb)" aria-label="PHASE"><text x="4.44 13.31 22.19 31.07 39.94" y="0" font-size="15.27" font-family="'Liberation Serif', serif" font-weight="bold" fill="#111" stroke="#111" stroke-width="0.2" text-anchor="middle" transform="scale(0.5858 1)"><tspan textLength="8.25" lengthAdjust="spacingAndGlyphs">P</tspan><tspan textLength="8.25" lengthAdjust="spacingAndGlyphs">H</tspan><tspan textLength="8.25" lengthAdjust="spacingAndGlyphs">A</tspan><tspan textLength="8.25" lengthAdjust="spacingAndGlyphs">S</tspan><tspan textLength="8.25" lengthAdjust="spacingAndGlyphs">E</tspan></text></g>
<g transform="translate(261.6 514)" filter="url(#fb)" aria-label="U"><text x="4.13" y="0" font-size="14.20" font-family="'Liberation Serif', serif" font-weight="bold" fill="#111" stroke="#111" stroke-width="0.2" text-anchor="middle" transform="scale(0.6784 1)"><tspan textLength="7.68" lengthAdjust="spacingAndGlyphs">U</tspan></text></g>
<g transform="translate(256.6 529)" filter="url(#fb)" aria-label="ORG"><text x="4.26 12.78 21.30" y="0" font-size="14.66" font-family="'Liberation Serif', serif" font-weight="bold" fill="#111" stroke="#111" stroke-width="0.2" text-anchor="middle" transform="scale(0.6255 1)"><tspan textLength="7.92" lengthAdjust="spacingAndGlyphs">O</tspan><tspan textLength="7.92" lengthAdjust="spacingAndGlyphs">R</tspan><tspan textLength="7.92" lengthAdjust="spacingAndGlyphs">G</tspan></text></g>
<g transform="translate(325 499)" filter="url(#fb)" aria-label="PHASE"><text x="4.44 13.31 22.19 31.07 39.94" y="0" font-size="15.27" font-family="'Liberation Serif', serif" font-weight="bold" fill="#111" stroke="#111" stroke-width="0.2" text-anchor="middle" transform="scale(0.5858 1)"><tspan textLength="8.25" lengthAdjust="spacingAndGlyphs">P</tspan><tspan textLength="8.25" lengthAdjust="spacingAndGlyphs">H</tspan><tspan textLength="8.25" lengthAdjust="spacingAndGlyphs">A</tspan><tspan textLength="8.25" lengthAdjust="spacingAndGlyphs">S</tspan><tspan textLength="8.25" lengthAdjust="spacingAndGlyphs">E</tspan></text></g>
<g transform="translate(335.2 514)" filter="url(#fb)" aria-label="V"><text x="4.13" y="0" font-size="14.20" font-family="'Liberation Serif', serif" font-weight="bold" fill="#111" stroke="#111" stroke-width="0.2" text-anchor="middle" transform="scale(0.6784 1)"><tspan textLength="7.68" lengthAdjust="spacingAndGlyphs">V</tspan></text></g>
<g transform="translate(330.2 529)" filter="url(#fb)" aria-label="GRN"><text x="4.26 12.78 21.30" y="0" font-size="14.66" font-family="'Liberation Serif', serif" font-weight="bold" fill="#111" stroke="#111" stroke-width="0.2" text-anchor="middle" transform="scale(0.6255 1)"><tspan textLength="7.92" lengthAdjust="spacingAndGlyphs">G</tspan><tspan textLength="7.92" lengthAdjust="spacingAndGlyphs">R</tspan><tspan textLength="7.92" lengthAdjust="spacingAndGlyphs">N</tspan></text></g>
<g transform="translate(395.6 499)" filter="url(#fb)" aria-label="PHASE"><text x="4.44 13.31 22.19 31.07 39.94" y="0" font-size="15.27" font-family="'Liberation Serif', serif" font-weight="bold" fill="#111" stroke="#111" stroke-width="0.2" text-anchor="middle" transform="scale(0.5858 1)"><tspan textLength="8.25" lengthAdjust="spacingAndGlyphs">P</tspan><tspan textLength="8.25" lengthAdjust="spacingAndGlyphs">H</tspan><tspan textLength="8.25" lengthAdjust="spacingAndGlyphs">A</tspan><tspan textLength="8.25" lengthAdjust="spacingAndGlyphs">S</tspan><tspan textLength="8.25" lengthAdjust="spacingAndGlyphs">E</tspan></text></g>
<g transform="translate(405.8 514)" filter="url(#fb)" aria-label="W"><text x="4.13" y="0" font-size="14.20" font-family="'Liberation Serif', serif" font-weight="bold" fill="#111" stroke="#111" stroke-width="0.2" text-anchor="middle" transform="scale(0.6784 1)"><tspan textLength="9.08" lengthAdjust="spacingAndGlyphs">W</tspan></text></g>
<g transform="translate(400.8 529)" filter="url(#fb)" aria-label="BRW"><text x="4.26 12.78 21.30" y="0" font-size="14.66" font-family="'Liberation Serif', serif" font-weight="bold" fill="#111" stroke="#111" stroke-width="0.2" text-anchor="middle" transform="scale(0.6255 1)"><tspan textLength="7.92" lengthAdjust="spacingAndGlyphs">B</tspan><tspan textLength="7.92" lengthAdjust="spacingAndGlyphs">R</tspan><tspan textLength="9.37" lengthAdjust="spacingAndGlyphs">W</tspan></text></g>
<rect x="600" y="362.4" width="25" height="24.2" stroke="#1c1c1c" stroke-width="1.2" fill="none" />
<g transform="translate(605.2 382)" filter="url(#fl)" aria-label="S1"><text x="6.66 19.97" y="0" font-size="22.90" font-family="'Liberation Serif', serif" font-weight="bold" fill="#111" stroke="#111" stroke-width="0.1" text-anchor="middle" transform="scale(0.5858 1)"><tspan textLength="12.38" lengthAdjust="spacingAndGlyphs">S</tspan>1</text></g>
<line x1="605.8" y1="386.6" x2="605.8" y2="414.6" stroke="#222" stroke-width="1" />
<line x1="612.5" y1="386.6" x2="612.5" y2="433.6" stroke="#222" stroke-width="1" />
<line x1="619" y1="386.6" x2="619" y2="455.6" stroke="#222" stroke-width="1" />
<rect x="675.5" y="362.4" width="25" height="24.2" stroke="#1c1c1c" stroke-width="1.2" fill="none" />
<g transform="translate(680.7 382)" filter="url(#fl)" aria-label="S1"><text x="6.66 19.97" y="0" font-size="22.90" font-family="'Liberation Serif', serif" font-weight="bold" fill="#111" stroke="#111" stroke-width="0.1" text-anchor="middle" transform="scale(0.5858 1)"><tspan textLength="12.38" lengthAdjust="spacingAndGlyphs">S</tspan>1</text></g>
<line x1="680.6" y1="386.6" x2="680.6" y2="414.6" stroke="#222" stroke-width="1" />
<line x1="687.7" y1="386.6" x2="687.7" y2="433.6" stroke="#222" stroke-width="1" />
<line x1="694" y1="386.6" x2="694" y2="455.4" stroke="#222" stroke-width="1" />
<rect x="738.5" y="362.4" width="25" height="24.2" stroke="#1c1c1c" stroke-width="1.2" fill="none" />
<g transform="translate(743.7 382)" filter="url(#fl)" aria-label="S1"><text x="6.66 19.97" y="0" font-size="22.90" font-family="'Liberation Serif', serif" font-weight="bold" fill="#111" stroke="#111" stroke-width="0.1" text-anchor="middle" transform="scale(0.5858 1)"><tspan textLength="12.38" lengthAdjust="spacingAndGlyphs">S</tspan>1</text></g>
<line x1="742.6" y1="386.6" x2="742.6" y2="414.6" stroke="#222" stroke-width="1" />
<line x1="750.6" y1="386.6" x2="750.6" y2="433.6" stroke="#222" stroke-width="1" />
<line x1="757.4" y1="386.6" x2="757.4" y2="454.6" stroke="#222" stroke-width="1" />
<line x1="559.6" y1="414.6" x2="742.6" y2="414.6" stroke="#333" stroke-width="1.2" />
<line x1="559.6" y1="433.8" x2="750.6" y2="433.8" stroke="#333" stroke-width="1.2" />
<circle cx="556.3" cy="414.8" r="3.3" stroke="#1c1c1c" stroke-width="1" fill="none" />
<circle cx="556.3" cy="434.2" r="3.3" stroke="#1c1c1c" stroke-width="1" fill="none" />
<g transform="translate(483.2 408)" filter="url(#fl)" aria-label="RED--+V"><text x="4.79 14.38 23.97 33.55 43.14 52.73 62.31" y="0" font-size="16.49" font-family="'Liberation Serif', serif" font-weight="bold" fill="#111" stroke="#111" stroke-width="0.2" text-anchor="middle" transform="scale(0.6968 1)"><tspan textLength="8.92" lengthAdjust="spacingAndGlyphs">R</tspan><tspan textLength="8.92" lengthAdjust="spacingAndGlyphs">E</tspan><tspan textLength="8.92" lengthAdjust="spacingAndGlyphs">D</tspan><tspan textLength="9.90" lengthAdjust="spacingAndGlyphs">-</tspan><tspan textLength="9.90" lengthAdjust="spacingAndGlyphs">-</tspan><tspan textLength="8.90" lengthAdjust="spacingAndGlyphs">+</tspan><tspan textLength="8.92" lengthAdjust="spacingAndGlyphs">V</tspan></text></g>
<g transform="translate(483.2 441.6)" filter="url(#fl)" aria-label="BLK--GND"><text x="5.06 15.18 25.30 35.42 45.54 55.65 65.77 75.89" y="0" font-size="17.40" font-family="'Liberation Serif', serif" font-weight="bold" fill="#111" stroke="#111" stroke-width="0.2" text-anchor="middle" transform="scale(0.6641 1)"><tspan textLength="9.41" lengthAdjust="spacingAndGlyphs">B</tspan><tspan textLength="9.41" lengthAdjust="spacingAndGlyphs">L</tspan><tspan textLength="9.41" lengthAdjust="spacingAndGlyphs">K</tspan><tspan textLength="10.39" lengthAdjust="spacingAndGlyphs">-</tspan><tspan textLength="10.39" lengthAdjust="spacingAndGlyphs">-</tspan><tspan textLength="9.41" lengthAdjust="spacingAndGlyphs">G</tspan><tspan textLength="9.41" lengthAdjust="spacingAndGlyphs">N</tspan><tspan textLength="9.41" lengthAdjust="spacingAndGlyphs">D</tspan></text></g>
<g transform="translate(595.8 476)" filter="url(#fl)" aria-label="HALL A"><text x="5.33 15.98 26.63 37.28 47.93 58.58" y="0" font-size="18.32" font-family="'Liberation Serif', serif" font-weight="bold" fill="#111" stroke="#111" stroke-width="0.2" text-anchor="middle" transform="scale(0.6440 1)"><tspan textLength="9.91" lengthAdjust="spacingAndGlyphs">H</tspan><tspan textLength="9.91" lengthAdjust="spacingAndGlyphs">A</tspan><tspan textLength="9.91" lengthAdjust="spacingAndGlyphs">L</tspan><tspan textLength="9.91" lengthAdjust="spacingAndGlyphs">L</tspan> <tspan textLength="9.91" lengthAdjust="spacingAndGlyphs">A</tspan></text></g>
<g transform="translate(595.8 496)" filter="url(#fl)" aria-label="YEL"><text x="4.88 14.65 24.41" y="0" font-size="16.79" font-family="'Liberation Serif', serif" font-weight="bold" fill="#111" stroke="#111" stroke-width="0.2" text-anchor="middle" transform="scale(0.7067 1)"><tspan textLength="9.08" lengthAdjust="spacingAndGlyphs">Y</tspan><tspan textLength="9.08" lengthAdjust="spacingAndGlyphs">E</tspan><tspan textLength="9.08" lengthAdjust="spacingAndGlyphs">L</tspan></text></g>
<g transform="translate(680.4 477.6)" filter="url(#fl)" aria-label="HALL B"><text x="5.33 15.98 26.63 37.28 47.93 58.58" y="0" font-size="18.32" font-family="'Liberation Serif', serif" font-weight="bold" fill="#111" stroke="#111" stroke-width="0.2" text-anchor="middle" transform="scale(0.6440 1)"><tspan textLength="9.91" lengthAdjust="spacingAndGlyphs">H</tspan><tspan textLength="9.91" lengthAdjust="spacingAndGlyphs">A</tspan><tspan textLength="9.91" lengthAdjust="spacingAndGlyphs">L</tspan><tspan textLength="9.91" lengthAdjust="spacingAndGlyphs">L</tspan> <tspan textLength="9.91" lengthAdjust="spacingAndGlyphs">B</tspan></text></g>
<g transform="translate(680.4 497.4)" filter="url(#fl)" aria-label="WHT"><text x="5.15 15.44 25.74" y="0" font-size="17.71" font-family="'Liberation Serif', serif" font-weight="bold" fill="#111" stroke="#111" stroke-width="0.2" text-anchor="middle" transform="scale(0.6653 1)"><tspan textLength="11.33" lengthAdjust="spacingAndGlyphs">W</tspan><tspan textLength="9.58" lengthAdjust="spacingAndGlyphs">H</tspan><tspan textLength="9.58" lengthAdjust="spacingAndGlyphs">T</tspan></text></g>
<g transform="translate(744.4 474.6)" filter="url(#fl)" aria-label="HALL C"><text x="5.33 15.98 26.63 37.28 47.93 58.58" y="0" font-size="18.32" font-family="'Liberation Serif', serif" font-weight="bold" fill="#111" stroke="#111" stroke-width="0.2" text-anchor="middle" transform="scale(0.6478 1)"><tspan textLength="9.91" lengthAdjust="spacingAndGlyphs">H</tspan><tspan textLength="9.91" lengthAdjust="spacingAndGlyphs">A</tspan><tspan textLength="9.91" lengthAdjust="spacingAndGlyphs">L</tspan><tspan textLength="9.91" lengthAdjust="spacingAndGlyphs">L</tspan> <tspan textLength="9.91" lengthAdjust="spacingAndGlyphs">C</tspan></text></g>
<g transform="translate(744.4 494.4)" filter="url(#fl)" aria-label="BLU"><text x="5.06 15.18 25.30" y="0" font-size="17.40" font-family="'Liberation Serif', serif" font-weight="bold" fill="#111" stroke="#111" stroke-width="0.2" text-anchor="middle" transform="scale(0.6918 1)"><tspan textLength="9.41" lengthAdjust="spacingAndGlyphs">B</tspan><tspan textLength="9.41" lengthAdjust="spacingAndGlyphs">L</tspan><tspan textLength="9.41" lengthAdjust="spacingAndGlyphs">U</tspan></text></g>
</svg>
</body></html>
